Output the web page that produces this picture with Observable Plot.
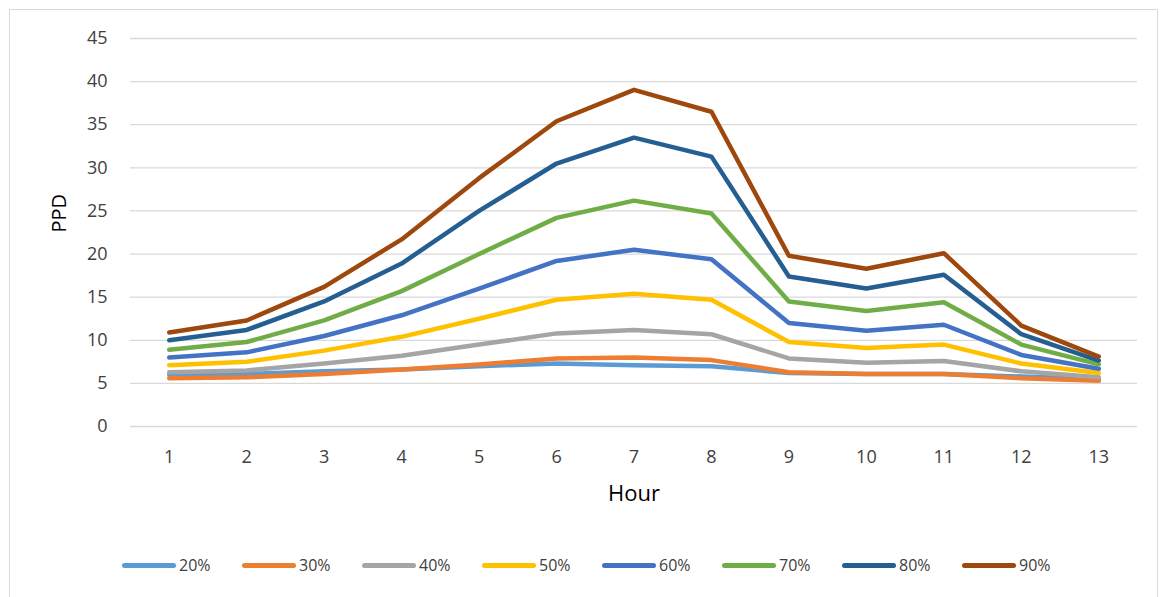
<!DOCTYPE html>
<html>
<head>
<meta charset="utf-8">
<script src="https://cdn.jsdelivr.net/npm/d3@7"></script>
<script src="https://cdn.jsdelivr.net/npm/@observablehq/plot@0.6"></script>
<style>
  html, body { margin: 0; padding: 0; background: #fff; }
  body { width: 1166px; height: 597px; position: relative; overflow: hidden; font-family: "Open Sans", sans-serif; }
  #frame { position: absolute; left: 9px; top: 9px; width: 1149px; height: 600px; border: 1px solid #d9d9d9; box-sizing: border-box; }
  #chart { position: absolute; left: 0; top: 0; }
  #legend { position: absolute; left: 122px; top: 554px; display: flex; gap: 0; }
  .item { display: flex; align-items: center; width: 120px; }
  .sw { width: 54px; height: 5px; border-radius: 3px; margin-right: 3px; }
  .lab { font-size: 16px; color: #404040; }
</style>
</head>
<body>
<div id="frame"></div>
<div id="chart"></div>
<div id="legend"></div>
<script>
const hours = [1, 2, 3, 4, 5, 6, 7, 8, 9, 10, 11, 12, 13];
const seriesNames = ["20%", "30%", "40%", "50%", "60%", "70%", "80%", "90%"];
const colors = ["#5B9BD5", "#ED7D31", "#A5A5A5", "#FFC000", "#4472C4", "#70AD47", "#255E91", "#9E480E"];
const s20 = [6.0, 6.1, 6.4, 6.6, 7.0, 7.3, 7.1, 7.0, 6.2, 6.1, 6.1, 5.8, 5.5];
const s30 = [5.6, 5.7, 6.1, 6.6, 7.2, 7.9, 8.0, 7.7, 6.3, 6.1, 6.1, 5.6, 5.3];
const s40 = [6.3, 6.5, 7.3, 8.2, 9.5, 10.8, 11.2, 10.7, 7.9, 7.4, 7.6, 6.4, 5.7];
const s50 = [7.1, 7.5, 8.8, 10.4, 12.5, 14.7, 15.4, 14.7, 9.8, 9.1, 9.5, 7.3, 6.2];
const s60 = [8.0, 8.6, 10.5, 12.9, 16.0, 19.2, 20.5, 19.4, 12.0, 11.1, 11.8, 8.3, 6.7];
const s70 = [8.9, 9.8, 12.3, 15.7, 20.0, 24.2, 26.2, 24.7, 14.5, 13.4, 14.4, 9.5, 7.2];
const s80 = [10.0, 11.2, 14.5, 18.9, 25.0, 30.5, 33.5, 31.3, 17.4, 16.0, 17.6, 10.7, 7.65];
const s90 = [10.9, 12.3, 16.2, 21.7, 28.8, 35.4, 39.05, 36.5, 19.8, 18.3, 20.1, 11.7, 8.1];
const yTicks = [0, 5, 10, 15, 20, 25, 30, 35, 40, 45];

const allSeries = [s20, s30, s40, s50, s60, s70, s80, s90];
const data = allSeries.flatMap((vals, i) =>
  vals.map((v, j) => ({ hour: hours[j], ppd: v, series: seriesNames[i] }))
);

const chart = Plot.plot({
  width: 1166,
  height: 530,
  marginLeft: 130,
  marginRight: 29,
  marginTop: 38,
  marginBottom: 104,
  style: { fontFamily: "'Open Sans', sans-serif", color: "#404040", background: "transparent" },
  x: { domain: [0.5, 13.5], axis: null },
  y: { domain: [0, 45], axis: null },
  color: { domain: seriesNames, range: colors },
  marks: [
    Plot.gridY(yTicks, { stroke: "#d9d9d9", strokeOpacity: 1, strokeWidth: 1.3 }),
    Plot.axisY(yTicks, { tickSize: 0, tickPadding: 23, fontSize: 18, label: null, fill: "#404040" }),
    Plot.axisX(hours, { tickSize: 0, tickPadding: 24, fontSize: 18, label: null, fill: "#404040", tickFormat: d => String(d) }),
    Plot.text(["PPD"], { frameAnchor: "left", dx: -71, rotate: -90, fontSize: 20, fill: "#000" }),
    Plot.text(["Hour"], { frameAnchor: "bottom", dy: 74, fontSize: 22, fill: "#000" }),
    Plot.line(data, { x: "hour", y: "ppd", z: "series", stroke: "series", strokeWidth: 4.5, strokeLinejoin: "round", strokeLinecap: "round" })
  ]
});
document.getElementById("chart").appendChild(chart);

const legend = document.getElementById("legend");
seriesNames.forEach((name, i) => {
  const item = document.createElement("div");
  item.className = "item";
  const sw = document.createElement("div");
  sw.className = "sw";
  sw.style.background = colors[i];
  const lab = document.createElement("span");
  lab.className = "lab";
  lab.textContent = name;
  item.appendChild(sw);
  item.appendChild(lab);
  legend.appendChild(item);
});
</script>
</body>
</html>
